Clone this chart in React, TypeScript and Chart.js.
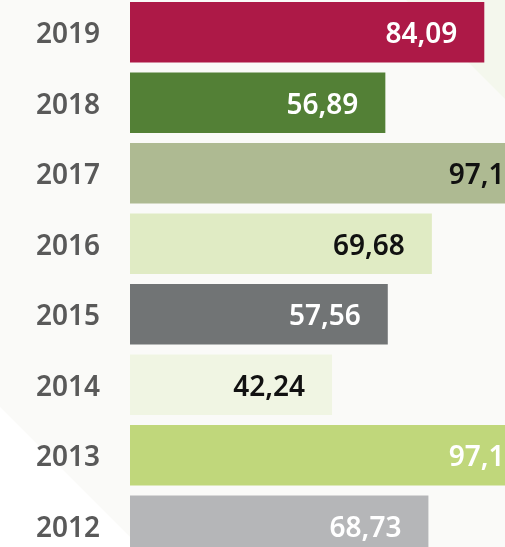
import React, { useEffect, useRef } from "react";
import { Chart, registerables } from "chart.js";

Chart.register(...registerables);

const years = ["2019", "2018", "2017", "2016", "2015", "2014", "2013", "2012"];
const values = [84.09, 56.89, 97.1, 69.68, 57.56, 42.24, 97.1, 68.73];
const valueLabels = ["84,09", "56,89", "97,1", "69,68", "57,56", "42,24", "97,1", "68,73"];
const barColors = ["#ad1947", "#538036", "#aeba92", "#e0ebc4", "#717475", "#f0f5e3", "#c0d77b", "#b5b6b8"];
const labelColors = ["#ffffff", "#ffffff", "#111111", "#111111", "#ffffff", "#111111", "#ffffff", "#ffffff"];
const AXIS_MIN = -13.3;
const AXIS_MAX = 104.9;

const W = 560;
const H = 564;

const bgPlugin = {
  id: "bgDeco",
  beforeDraw(chart: any) {
    const ctx = chart.ctx;
    const w = chart.width;
    const h = chart.height;
    ctx.save();
    ctx.fillStyle = "#fafaf8";
    ctx.fillRect(0, 0, w, h);
    ctx.fillStyle = "#f4f7ed";
    ctx.beginPath();
    ctx.moveTo(403, 0);
    ctx.lineTo(w, 0);
    ctx.lineTo(w, w - 403);
    ctx.closePath();
    ctx.fill();
    ctx.fillStyle = "#ffffff";
    ctx.beginPath();
    ctx.moveTo(0, 410);
    ctx.lineTo(0, h);
    ctx.lineTo(h - 410, h);
    ctx.closePath();
    ctx.fill();
    ctx.restore();
  },
};

const valueLabelPlugin = {
  id: "valueLabels",
  afterDatasetsDraw(chart: any) {
    const ctx = chart.ctx;
    const meta = chart.getDatasetMeta(0);
    ctx.save();
    ctx.font = "600 28px 'Noto Sans', 'Open Sans', sans-serif";
    ctx.textAlign = "right";
    ctx.textBaseline = "middle";
    meta.data.forEach((bar: any, i: number) => {
      ctx.fillStyle = labelColors[i];
      ctx.fillText(valueLabels[i], bar.x - 27, bar.y + 3);
    });
    ctx.restore();
  },
};

export default function App() {
  const ref = useRef<HTMLCanvasElement | null>(null);
  useEffect(() => {
    document.body.style.background = "#fafaf8";
    const canvas = ref.current!;
    const chart = new Chart(canvas, {
      type: "bar",
      data: {
        labels: years,
        datasets: [
          {
            data: values,
            backgroundColor: barColors,
            borderWidth: 0,
            base: AXIS_MIN,
            barPercentage: 0.861,
            categoryPercentage: 1,
          } as any,
        ],
      },
      options: {
        indexAxis: "y",
        animation: false,
        responsive: false,
        maintainAspectRatio: false,
        devicePixelRatio: 1,
        layout: { padding: 0 },
        plugins: {
          legend: { display: false },
          tooltip: { enabled: false },
        },
        scales: {
          x: {
            display: false,
            min: AXIS_MIN,
            max: AXIS_MAX,
          },
          y: {
            grid: { display: false, drawTicks: false },
            border: { display: false },
            ticks: {
              padding: 30,
              labelOffset: 3,
              color: "#595959",
              font: { family: "'Noto Sans', 'Open Sans', sans-serif", size: 28, weight: "600" as any },
            },
            afterFit: (scale: any) => {
              scale.width = 130;
              scale.paddingTop = 0;
              scale.paddingBottom = 0;
            },
          },
        },
      },
      plugins: [bgPlugin, valueLabelPlugin],
    });
    return () => chart.destroy();
  }, []);
  return (
    <div style={{ position: "fixed", left: 0, top: -3, width: W, height: H }}>
      <canvas ref={ref} width={W} height={H} style={{ display: "block" }} />
    </div>
  );
}
